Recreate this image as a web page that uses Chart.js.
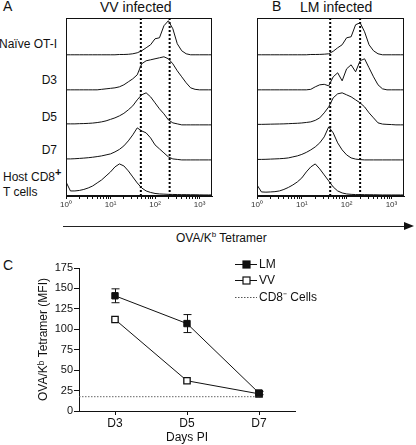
<!DOCTYPE html>
<html>
<head>
<meta charset="utf-8">
<script src="https://cdn.jsdelivr.net/npm/chart.js@4"></script>
<style>
  body { margin: 0; background: #fff; }
  #wrap { position: relative; width: 416px; height: 445px; overflow: hidden; font-family: "Liberation Sans", Arial, sans-serif; color: #111; }
  .t { position: absolute; line-height: 1; white-space: nowrap; font-size: 12px; }
  .big { font-size: 14px; }
  canvas { position: absolute; }
  sup { font-size: 8px; vertical-align: 5px; line-height: 0; }
</style>
</head>
<body>
<div id="wrap">
  <div class="t big" style="left:3px;top:-1px">A</div>
  <div class="t big" style="left:100px;top:0px">VV infected</div>
  <div class="t big" style="left:272px;top:-1px">B</div>
  <div class="t big" style="left:300px;top:0px">LM infected</div>

  <div class="t" style="right:359px;top:38px">Naïve OT-I</div>
  <div class="t" style="right:359px;top:74px">D3</div>
  <div class="t" style="right:359px;top:111px">D5</div>
  <div class="t" style="right:359px;top:144px">D7</div>
  <div class="t" style="left:3px;top:171px">Host CD8<sup style="font-weight:bold;font-size:11px">+</sup></div>
  <div class="t" style="left:3px;top:186px">T cells</div>

  <canvas id="histVV" width="166" height="200" style="left:56px;top:10px"></canvas>
  <canvas id="histLM" width="167" height="200" style="left:247px;top:10px"></canvas>

  <div style="position:absolute;left:63px;top:226px;width:342px;height:1px;background:#222"></div>
  <div style="position:absolute;left:404px;top:222px;width:0;height:0;border-left:10px solid #111;border-top:4px solid transparent;border-bottom:4px solid transparent"></div>
  <div class="t" style="left:176px;top:232px">OVA/K<sup>b</sup> Tetramer</div>

  <div class="t big" style="left:3px;top:258px">C</div>
  <canvas id="mfi" width="416" height="195" style="left:0;top:250px"></canvas>
</div>
<script>
// histogram bins, in decades of OVA/Kb tetramer fluorescence (10^0 .. 10^3.3)
const decades = [0, 0.1, 0.2, 0.3, 0.4, 0.5, 0.6, 0.7, 0.8, 0.9, 1.0, 1.1, 1.2, 1.3, 1.4, 1.5, 1.6,
  1.7, 1.8, 1.9, 2.0, 2.1, 2.2, 2.3, 2.4, 2.5, 2.6, 2.7, 2.8, 2.9, 3.0, 3.1, 3.2, 3.3];
const tickLabels = ['10\u2070', '10\u00b9', '10\u00b2', '10\u00b3'];

// VV infected (relative counts)
const vvNaive = [0,0,0,0,0,0,0,0,0,0,0,0, 0.3,0.3,0.5,1,2,4,7,10,16,17,29,34,26,11,4,1, 0,0,0,0,0,0];
const vvD3 = [0,0,0,0,0,0,0,0, 0.5,1,1.5,2,3,5,8,11,15,26,29,30,31,32,33,31,26,19,13,7,2,0.5, 0,0,0,0];
const vvD5 = [1,1,1,1.2,1.3,1.5,1.8,2.3,3,4,5.5,7,9,11.5,15,19,25,30,32,28,22,16,11,5,2,1, 0,0,0,0,0,0,0,0];
const vvD7 = [1,1,1.2,1.5,1.8,2.2,2.7,3.3,4,5,6,8,10.5,14,19,25,32,29,27,22,15,11,7,3,1,0.5, 0,0,0,0,0,0,0,0];
const vvHost = [13,4,4,4.5,5.5,7,9,12,15,19,23,28,31,29,24,18,12,7,4,2.5,1.5,1,0.8,0.6,0.5,0.4,0.3,0.3,0.2,0.2,0.1,0,0,0];
const vvGates = [48, 213];

// LM infected (relative counts)
const lmNaive = [0,0,0,0,0,0,0,0,0,0,0,0, 0.3,0.3,0.4,0.6,1,3.5,7,10,17,18,30,32,23,10,4,1, 0,0,0,0,0,0];
const lmD3 = [0,0,0,0,0,0,0,0,0,0,0,0, 0.5,3,5,5.5,4,13,17,9,21,25,18,29,31,22,13,5,1, 0,0,0,0,0];
const lmD5 = [0.5,0.5,0.6,0.7,0.8,0.9,1,1.2,1.4,1.6,1.9,2.4,3,4.5,7,12,18,27,31,32,30,28,25,22,18,12,7,2,0.8,0.5,0.3,0,0,0];
const lmD7 = [0.5,0.5,0.6,0.8,1,1.2,1.5,2,3,4,5.5,7.5,10,13,17,23,33,27,17,10,5,2,0.8,0.3, 0,0,0,0,0,0,0,0,0,0];
const lmHost = [10,3,2.8,3,3.3,4,5.5,7.5,10,13,17,23,28,31,26,20,14,8,4,2,1,0.6,0.4,0.3,0.3,0.2,0.2,0.1, 0,0,0,0,0,0];
const lmGates = [43, 200];

// panel C
const days = ['D3', 'D5', 'D7'];
const lmMfi = [141, 107, 22];
const lmSem = [8.5, 11, 2];
const vvMfi = [112, 37, 21];
const cd8NegMfi = 17.5;

const FONT = '"Liberation Sans", Arial, sans-serif';
Chart.defaults.font.family = FONT;
Chart.defaults.color = '#111';

const frame = {
  id: 'frame',
  afterDraw(c) {
    const a = c.chartArea, g = c.ctx;
    g.save();
    g.strokeStyle = '#111';
    g.lineWidth = 1;
    g.strokeRect(a.left + 0.5, a.top + 0.5, a.right - a.left - 1, a.bottom - a.top - 1);
    g.restore();
  }
};

// minor/major log tick positions
const logTicks = [];
for (let d = 0; d < 4; d++) {
  for (let k = 1; k < 10; k++) {
    const v = d + Math.log10(k);
    if (v <= 3.28) logTicks.push(v);
  }
}

function histChart(id, curves, gates) {
  const n = curves.length;
  const datasets = curves.map((h, i) => ({
    data: h.map((v, j) => ({ x: decades[j], y: (n - 1 - i) + v / 35 })),
    borderColor: '#111',
    borderWidth: 1,
    pointRadius: 0,
    tension: 0
  }));
  gates.forEach(g => {
    datasets.push({
      data: [{ x: Math.log10(g), y: -0.03 }, { x: Math.log10(g), y: 5.05 }],
      borderColor: '#000',
      borderWidth: 2,
      borderDash: [2, 2],
      pointRadius: 0
    });
  });
  return new Chart(document.getElementById(id), {
    type: 'line',
    data: { datasets },
    plugins: [frame],
    options: {
      responsive: false,
      animation: false,
      layout: { padding: { left: 10, right: 10, top: 8, bottom: 0 } },
      plugins: { legend: { display: false }, tooltip: { enabled: false } },
      scales: {
        x: {
          type: 'linear', min: 0, max: 3.28,
          afterBuildTicks: s => { s.ticks = logTicks.map(v => ({ value: v })); },
          afterFit: s => { s.height = 14; },
          grid: { drawOnChartArea: false, tickLength: 3, color: '#111' },
          border: { display: true, color: '#111' },
          ticks: {
            autoSkip: false, maxRotation: 0, padding: 1,
            font: { size: 8 }, color: '#333',
            callback: v => Math.abs(v - Math.round(v)) < 1e-6 ? tickLabels[Math.round(v)] : ''
          }
        },
        y: { display: false, min: -0.03, max: 5.05 }
      }
    }
  });
}

histChart('histVV', [vvNaive, vvD3, vvD5, vvD7, vvHost], vvGates);
histChart('histLM', [lmNaive, lmD3, lmD5, lmD7, lmHost], lmGates);

const errorBars = {
  id: 'errorBars',
  afterDatasetsDraw(c) {
    const meta = c.getDatasetMeta(0), y = c.scales.y, g = c.ctx;
    g.save();
    g.strokeStyle = '#111';
    g.lineWidth = 1;
    meta.data.forEach((pt, i) => {
      const x = Math.round(pt.x) + 0.5;
      const t = y.getPixelForValue(lmMfi[i] + lmSem[i]);
      const b = y.getPixelForValue(lmMfi[i] - lmSem[i]);
      g.beginPath();
      g.moveTo(x, t); g.lineTo(x, b);
      g.moveTo(x - 4, t); g.lineTo(x + 4, t);
      g.moveTo(x - 4, b); g.lineTo(x + 4, b);
      g.stroke();
    });
    g.restore();
  }
};

const legendBox = {
  id: 'legendBox',
  afterDraw(c) {
    const g = c.ctx;
    const x0 = 235, x1 = 257, tx = 259;
    const rows = [
      { y: 14, label: 'LM', fill: '#111', marker: true, dash: [] },
      { y: 30, label: 'VV', fill: '#fff', marker: true, dash: [] },
      { y: 47, label: 'CD8\u207b Cells', marker: false, dash: [1.5, 1.5] }
    ];
    g.save();
    g.font = '12px ' + FONT;
    g.textBaseline = 'middle';
    rows.forEach(r => {
      g.strokeStyle = r.marker ? '#111' : '#555';
      g.lineWidth = 1;
      g.setLineDash(r.dash);
      g.beginPath();
      g.moveTo(x0, r.y + 0.5); g.lineTo(x1, r.y + 0.5);
      g.stroke();
      g.setLineDash([]);
      if (r.marker) {
        g.fillStyle = r.fill;
        g.fillRect(x0 + 8, r.y - 3, 7, 7);
        g.lineWidth = 1.2;
        g.strokeRect(x0 + 8, r.y - 3, 7, 7);
      }
      g.fillStyle = '#111';
      g.fillText(r.label, tx, r.y + 1);
    });
    g.restore();
  }
};

new Chart(document.getElementById('mfi'), {
  type: 'line',
  data: {
    datasets: [
      {
        label: 'LM',
        data: lmMfi.map((v, i) => ({ x: i, y: v })),
        borderColor: '#111', borderWidth: 1,
        pointStyle: 'rect', pointRadius: 4.5,
        pointBackgroundColor: '#111', pointBorderColor: '#111', pointBorderWidth: 1
      },
      {
        label: 'VV',
        data: vvMfi.map((v, i) => ({ x: i, y: v })),
        borderColor: '#111', borderWidth: 1,
        pointStyle: 'rect', pointRadius: 4.5,
        pointBackgroundColor: '#fff', pointBorderColor: '#111', pointBorderWidth: 1.3
      },
      {
        label: 'CD8- Cells',
        data: [{ x: -0.5, y: cd8NegMfi }, { x: 2.05, y: cd8NegMfi }],
        borderColor: '#666', borderWidth: 1, borderDash: [1.5, 1.5],
        pointRadius: 0
      }
    ]
  },
  plugins: [errorBars, legendBox],
  options: {
    responsive: false,
    animation: false,
    layout: { padding: { left: 32, right: 121, top: 18, bottom: 0 } },
    plugins: { legend: { display: false }, tooltip: { enabled: false } },
    scales: {
      x: {
        type: 'linear', min: -0.5, max: 2.5,
        afterBuildTicks: s => { s.ticks = days.map((d, i) => ({ value: i })); },
        afterFit: s => { s.height = 34; },
        grid: { drawOnChartArea: false, tickLength: 4, color: '#111' },
        border: { color: '#111' },
        ticks: { padding: 1, font: { size: 12 }, callback: v => days[v] },
        title: { display: true, text: 'Days PI', font: { size: 12 }, padding: { top: 0, bottom: 0 } }
      },
      y: {
        min: 0, max: 175,
        afterFit: s => { s.width = 47; },
        grid: { drawOnChartArea: false, tickLength: 5, color: '#111' },
        border: { color: '#111' },
        ticks: { stepSize: 25, padding: 1, font: { size: 11 } },
        title: { display: true, text: 'OVA/K\u1d47 Tetramer (MFI)', font: { size: 12 }, padding: { top: 4, bottom: 0 } }
      }
    }
  }
});
</script>
</body>
</html>
